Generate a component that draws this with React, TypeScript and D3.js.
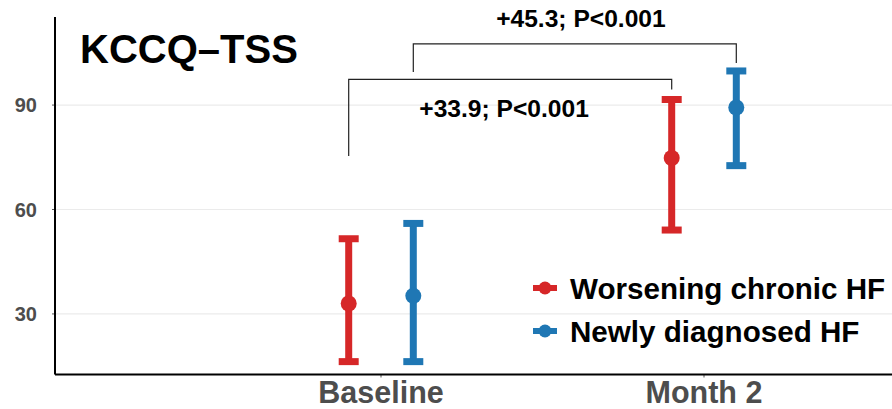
import React, { useEffect } from "react";
import * as d3 from "d3";

const categories = ["Baseline", "Month 2"];
const groups = ["Worsening chronic HF", "Newly diagnosed HF"];
const colors = ["#d62728", "#1f77b4"];
// per group: [Baseline, Month 2]
const means = [
  [33.0, 74.8],
  [35.2, 89.3],
];
const lowers = [
  [16.3, 54.1],
  [16.3, 72.6],
];
const uppers = [
  [51.6, 91.6],
  [56.0, 99.8],
];
const yTicks = [30, 60, 90];
const title = "KCCQ–TSS";
const bracketLabels = ["+33.9; P<0.001", "+45.3; P<0.001"];
// bracket: [leftBottom, top, rightBottom] in data units
const bracketY = [
  [75.4, 97.4, 94.5],
  [99.5, 107.6, 102.1],
];
const labelY = [86.6, 112.5];
const labelX = [0.381, 0.619];

const W = 892;
const H = 409;
const FONT = "'Liberation Sans', Arial, Helvetica, sans-serif";

export default function App() {
  useEffect(() => {
    document.body.style.margin = "0";
  }, []);

  const left = 55;
  const right = 892;
  const top = 17;
  const bottom = 374.5;
  const y = d3.scaleLinear().domain([12.6, 115.3]).range([bottom, top]);
  const x = d3.scaleLinear().domain([0, 1]).range([381, 704]);
  const dodge = [-0.1, 0.1];
  const capHalf = 10;

  return (
    <svg width={W} height={H} style={{ display: "block" }} fontFamily={FONT}>
      <rect x={0} y={0} width={W} height={H} fill="#fff" />
      {yTicks.map((t) => (
        <g key={t}>
          <line x1={left} x2={right} y1={y(t)} y2={y(t)} stroke="#ebebeb" strokeWidth={1.2} />
          <line x1={left - 3} x2={left} y1={y(t)} y2={y(t)} stroke="#555" strokeWidth={1} />
          <text x={37} y={y(t)} dy="0.36em" textAnchor="end" fontSize={20} fontWeight="bold" fill="#4d4d4d">
            {t}
          </text>
        </g>
      ))}
      {categories.map((c, i) => (
        <g key={c}>
          <line x1={x(i)} x2={x(i)} y1={bottom} y2={bottom + 3} stroke="#555" strokeWidth={1} />
          <text x={x(i)} y={402.5} textAnchor="middle" fontSize={30.5} fontWeight="bold" fill="#4d4d4d">
            {c}
          </text>
        </g>
      ))}
      <line x1={left} x2={left} y1={top} y2={bottom} stroke="#000" strokeWidth={2} />
      <line x1={left} x2={right} y1={bottom} y2={bottom} stroke="#000" strokeWidth={2} />

      {/* brackets */}
      {bracketY.map((b, k) => {
        const xl = x(0 + dodge[k]);
        const xr = x(1 + dodge[k]);
        const p = d3.path();
        p.moveTo(xl, y(b[0]));
        p.lineTo(xl, y(b[1]));
        p.lineTo(xr, y(b[1]));
        p.lineTo(xr, y(b[2]));
        return (
          <g key={k}>
            <path d={p.toString()} fill="none" stroke="#222" strokeWidth={1.2} />
            <text x={x(labelX[k])} y={y(labelY[k])} textAnchor="middle" fontSize={24.6} fontWeight="bold" fill="#000">
              {bracketLabels[k]}
            </text>
          </g>
        );
      })}

      {/* error bars */}
      {groups.map((g, gi) =>
        categories.map((c, ci) => {
          const cx = x(ci + dodge[gi]);
          return (
            <g key={g + c} stroke={colors[gi]}>
              <line x1={cx} x2={cx} y1={y(lowers[gi][ci])} y2={y(uppers[gi][ci])} strokeWidth={7} />
              <line x1={cx - capHalf} x2={cx + capHalf} y1={y(lowers[gi][ci])} y2={y(lowers[gi][ci])} strokeWidth={7} />
              <line x1={cx - capHalf} x2={cx + capHalf} y1={y(uppers[gi][ci])} y2={y(uppers[gi][ci])} strokeWidth={7} />
              <circle cx={cx} cy={y(means[gi][ci])} r={8} fill={colors[gi]} stroke="none" />
            </g>
          );
        })
      )}

      <text x={80} y={63} fontSize={40} fontWeight="bold" fill="#000">
        {title}
      </text>

      {/* legend */}
      {groups.map((g, gi) => {
        const cy = 288 + gi * 43;
        return (
          <g key={g}>
            <line x1={533} x2={557} y1={cy} y2={cy} stroke={colors[gi]} strokeWidth={6} />
            <circle cx={545} cy={cy} r={6.5} fill={colors[gi]} />
            <text x={570} y={cy} dy="0.36em" fontSize={29.6} fontWeight="bold" fill="#000">
              {g}
            </text>
          </g>
        );
      })}
    </svg>
  );
}
